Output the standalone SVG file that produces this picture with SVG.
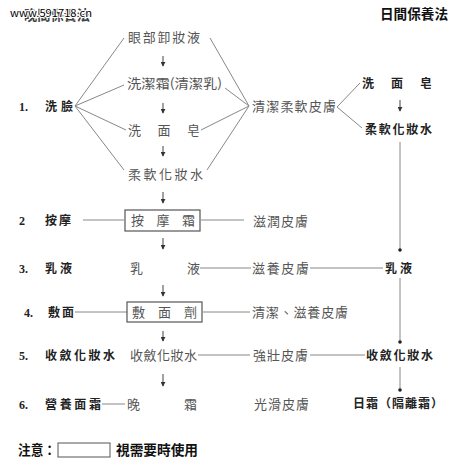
<svg xmlns="http://www.w3.org/2000/svg" width="458" height="465" viewBox="0 0 458 465">
<style>
text{font-family:"Noto Sans CJK TC","Noto Sans CJK SC",sans-serif;}
.c{font-size:13px;fill:#555;}
.l{font-size:12px;fill:#222;font-weight:bold;}
.n{font-size:12px;fill:#222;font-weight:bold;font-family:"Liberation Serif",serif;}
.h{font-size:14px;fill:#111;font-weight:bold;}
.ln{stroke:#888;stroke-width:1;fill:none;}
.ar{stroke:#444;stroke-width:1;fill:none;}
.bx{fill:none;stroke:#555;stroke-width:1.2;}
</style>
<defs>
<marker id="ah" viewBox="0 0 6 6" refX="5" refY="3" markerWidth="5" markerHeight="5" orient="auto">
<path d="M0,0 L6,3 L0,6 z" fill="#333"/>
</marker>
</defs>
<rect width="458" height="465" fill="#fff"/>

<g id="titles">
<text class="h" x="24" y="20" textLength="66" lengthAdjust="spacingAndGlyphs" opacity="0.8">晚間保養法</text>
<text x="10" y="17" font-family="Liberation Sans,sans-serif" font-size="10" fill="#000" stroke="#fff" stroke-width="2" paint-order="stroke" textLength="82" lengthAdjust="spacingAndGlyphs">www.591718.cn</text>
<text class="h" x="380" y="19" textLength="68" lengthAdjust="spacingAndGlyphs">日間保養法</text>
</g>

<g id="connectors">
<!-- fan from 洗臉 -->
<line class="ln" x1="75" y1="106" x2="124" y2="38"/>
<line class="ln" x1="75" y1="106" x2="124" y2="85"/>
<line class="ln" x1="75" y1="106" x2="126" y2="130"/>
<line class="ln" x1="75" y1="106" x2="124" y2="170"/>
<!-- fan to 清潔柔軟皮膚 -->
<line class="ln" x1="210" y1="38" x2="249" y2="106"/>
<line class="ln" x1="225" y1="88" x2="249" y2="106"/>
<line class="ln" x1="201" y1="130" x2="249" y2="106"/>
<line class="ln" x1="207" y1="170" x2="249" y2="106"/>
<!-- fan to right column -->
<line class="ln" x1="337" y1="107" x2="360" y2="83"/>
<line class="ln" x1="337" y1="107" x2="362" y2="128"/>
<!-- center arrows -->
<line class="ar" x1="163" y1="56" x2="163" y2="66" marker-end="url(#ah)"/>
<line class="ar" x1="163" y1="103" x2="163" y2="113" marker-end="url(#ah)"/>
<line class="ar" x1="163" y1="146" x2="163" y2="156" marker-end="url(#ah)"/>
<line class="ar" x1="163" y1="192" x2="163" y2="203" marker-end="url(#ah)"/>
<line class="ar" x1="163" y1="238" x2="163" y2="249" marker-end="url(#ah)"/>
<line class="ar" x1="163" y1="285" x2="163" y2="296" marker-end="url(#ah)"/>
<line class="ar" x1="163" y1="331" x2="163" y2="341" marker-end="url(#ah)"/>
<line class="ar" x1="163" y1="374" x2="163" y2="386" marker-end="url(#ah)"/>
<!-- right arrows / lines -->
<line class="ar" x1="400" y1="100" x2="400" y2="111" marker-end="url(#ah)"/>
<line class="ln" x1="400" y1="142" x2="400" y2="249"/>
<circle cx="400" cy="250" r="1.8" fill="#222"/>
<line class="ln" x1="400" y1="278" x2="400" y2="341"/>
<circle cx="400" cy="342" r="1.8" fill="#222"/>
<line class="ln" x1="400" y1="367" x2="400" y2="389"/>
<circle cx="400" cy="390" r="1.8" fill="#222"/>
<!-- rows -->
<line class="ln" x1="83" y1="220" x2="124" y2="220"/>
<line class="ln" x1="201" y1="220" x2="244" y2="220"/>
<line class="ln" x1="200" y1="268" x2="251" y2="268"/>
<line class="ln" x1="310" y1="268" x2="383" y2="268"/>
<line class="ln" x1="75" y1="312" x2="127" y2="312"/>
<line class="ln" x1="203" y1="312" x2="250" y2="312"/>
<line class="ln" x1="198" y1="355" x2="250" y2="355"/>
<line class="ln" x1="310" y1="355" x2="365" y2="355"/>
<line class="ln" x1="102" y1="404" x2="125" y2="404"/>
</g>

<g id="center">
<text class="c" x="128" y="42" textLength="72" lengthAdjust="spacing">眼部卸妝液</text>
<text class="c" x="127" y="88" textLength="95" lengthAdjust="spacingAndGlyphs">洗潔霜(清潔乳)</text>
<text class="c" x="128" y="135" textLength="72" lengthAdjust="spacing">洗面皂</text>
<text class="c" x="128" y="179" textLength="75" lengthAdjust="spacing">柔軟化妝水</text>
<g id="n-massage"><rect class="bx" x="125" y="210" width="75" height="21"/>
<text class="c" x="131" y="225" textLength="64" lengthAdjust="spacing">按摩霜</text></g>
<text class="c" x="130" y="273" textLength="70" lengthAdjust="spacing">乳液</text>
<g id="n-mask"><rect class="bx" x="127" y="302" width="75" height="20"/>
<text class="c" x="132" y="317" textLength="65" lengthAdjust="spacing">敷面劑</text></g>
<text class="c" x="130" y="360" textLength="67" lengthAdjust="spacing">收斂化妝水</text>
<text class="c" x="127" y="409" textLength="70" lengthAdjust="spacing">晚霜</text>
</g>

<g id="effects">
<text class="c" x="252" y="111" textLength="84" lengthAdjust="spacing">清潔柔軟皮膚</text>
<text class="c" x="253" y="226" textLength="55" lengthAdjust="spacing">滋潤皮膚</text>
<text class="c" x="252" y="273" textLength="57" lengthAdjust="spacing">滋養皮膚</text>
<text class="c" x="252" y="317" textLength="96" lengthAdjust="spacing">清潔、滋養皮膚</text>
<text class="c" x="253" y="360" textLength="55" lengthAdjust="spacing">強壯皮膚</text>
<text class="c" x="254" y="409" textLength="55" lengthAdjust="spacing">光滑皮膚</text>
</g>

<g id="left">
<text class="n" x="19" y="111">1.</text><text class="l" x="45" y="111" textLength="28">洗臉</text>
<text class="n" x="19" y="225">2</text><text class="l" x="45" y="225" textLength="26">按摩</text>
<text class="n" x="19" y="273">3.</text><text class="l" x="45" y="273" textLength="27">乳液</text>
<text class="n" x="24" y="317">4.</text><text class="l" x="48" y="317" textLength="26">敷面</text>
<text class="n" x="19" y="360">5.</text><text class="l" x="45" y="360" textLength="70" lengthAdjust="spacing">收斂化妝水</text>
<text class="n" x="19" y="409">6.</text><text class="l" x="45" y="409" textLength="56" lengthAdjust="spacing">營養面霜</text>
</g>

<g id="day">
<text class="l" x="362" y="88" textLength="70" lengthAdjust="spacing">洗面皂</text>
<text class="l" x="365" y="134" textLength="67" lengthAdjust="spacing">柔軟化妝水</text>
<text class="l" x="385" y="273" textLength="27">乳液</text>
<text class="l" x="366" y="360" textLength="67" lengthAdjust="spacing">收斂化妝水</text>
<text class="l" x="353" y="408" textLength="90" lengthAdjust="spacing">日霜（隔離霜）</text>
</g>

<g id="note">
<text class="h" x="18" y="455" textLength="38" lengthAdjust="spacingAndGlyphs">注意：</text>
<rect x="58" y="443" width="52" height="14" fill="none" stroke="#555" stroke-width="1"/>
<text class="h" x="116" y="455" textLength="82" lengthAdjust="spacingAndGlyphs">視需要時使用</text>
</g>
</svg>
